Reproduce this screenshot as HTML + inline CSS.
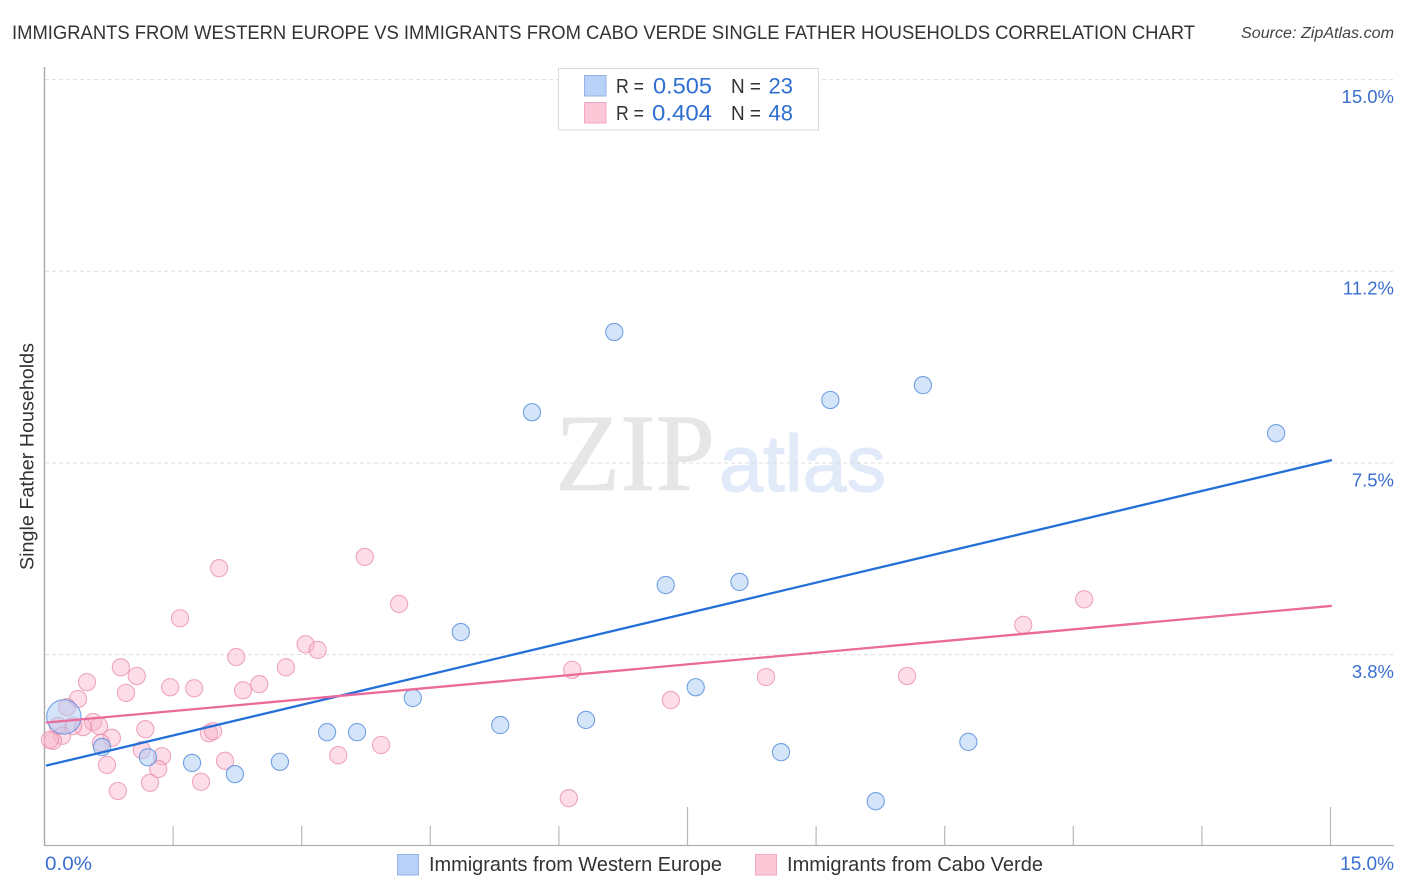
<!DOCTYPE html>
<html lang="en">
<head>
<meta charset="utf-8">
<title>Immigrants from Western Europe vs Immigrants from Cabo Verde Single Father Households Correlation Chart</title>
<style>
html,body{margin:0;padding:0;background:#fff;width:1406px;height:892px;overflow:hidden}
svg{display:block}
text{font-family:"Liberation Sans",sans-serif}
</style>
</head>
<body>
<svg id="chart" xmlns="http://www.w3.org/2000/svg" width="1406" height="892" viewBox="0 0 1406 892">
  <rect x="0" y="0" width="1406" height="892" fill="#ffffff"/>
  <text x="12" y="39" font-size="19.5" fill="#333" textLength="1183" lengthAdjust="spacingAndGlyphs">IMMIGRANTS FROM WESTERN EUROPE VS IMMIGRANTS FROM CABO VERDE SINGLE FATHER HOUSEHOLDS CORRELATION CHART</text>
  <text x="1394" y="38" font-size="15.5" font-style="italic" fill="#444" text-anchor="end" textLength="153" lengthAdjust="spacingAndGlyphs">Source: ZipAtlas.com</text>

  <g id="watermark">
    <text x="555" y="490" font-size="110" fill="#e6e6e6" stroke="#e6e6e6" stroke-width="0.8" textLength="160" lengthAdjust="spacingAndGlyphs" style="font-family:'Liberation Serif',serif">ZIP</text>
    <text x="719" y="491" font-size="80" fill="#e0eaf9" stroke="#e0eaf9" stroke-width="1.2" textLength="167" lengthAdjust="spacingAndGlyphs">atlas</text>
  </g>

  <g id="grid"></g>
  <g id="axes"></g>
  <g id="points-pink"></g>
  <g id="points-blue"></g>
  <g id="trends"></g>
  <g id="tick-labels"></g>

  <text transform="translate(33.5,456.5) rotate(-90)" font-size="19.5" fill="#333" text-anchor="middle" textLength="227" lengthAdjust="spacingAndGlyphs">Single Father Households</text>

  <g>
    <rect x="558.5" y="68.5" width="260" height="61.5" fill="#ffffff" stroke="#dcdcdc" stroke-width="1"/>
    <rect x="584.5" y="75.5" width="21.5" height="20.5" fill="#b8d2f7" stroke="#93b3e6" stroke-width="1"/>
    <rect x="584.5" y="102.5" width="21.5" height="20.5" fill="#fcc8d8" stroke="#f1a8c0" stroke-width="1"/>
    <text x="616" y="93" font-size="20" fill="#333" textLength="28" lengthAdjust="spacingAndGlyphs">R =</text>
    <text x="653" y="93.5" font-size="22" fill="#2f6fd0" textLength="59" lengthAdjust="spacingAndGlyphs">0.505</text>
    <text x="731" y="93" font-size="20" fill="#333" textLength="30" lengthAdjust="spacingAndGlyphs">N =</text>
    <text x="793" y="93.5" font-size="22" fill="#2f6fd0" text-anchor="end">23</text>
    <text x="616" y="120" font-size="20" fill="#333" textLength="28" lengthAdjust="spacingAndGlyphs">R =</text>
    <text x="652" y="120.5" font-size="22" fill="#2f6fd0" textLength="60" lengthAdjust="spacingAndGlyphs">0.404</text>
    <text x="731" y="120" font-size="20" fill="#333" textLength="30" lengthAdjust="spacingAndGlyphs">N =</text>
    <text x="793" y="120.5" font-size="22" fill="#2f6fd0" text-anchor="end">48</text>
  </g>

  <g>
    <rect x="397.5" y="854.5" width="21" height="20.5" fill="#b8d2f7" stroke="#93b3e6" stroke-width="1"/>
    <text x="429" y="871" font-size="20" fill="#333" textLength="293" lengthAdjust="spacingAndGlyphs">Immigrants from Western Europe</text>
    <rect x="755.5" y="854.5" width="21" height="20.5" fill="#fcc8d8" stroke="#f1a8c0" stroke-width="1"/>
    <text x="787" y="871" font-size="20" fill="#333" textLength="256" lengthAdjust="spacingAndGlyphs">Immigrants from Cabo Verde</text>
  </g>
</svg>
<script>
const blueX = [0.22,0.665,1.20,1.715,2.215,2.74,3.29,3.64,4.29,4.85,5.31,5.68,6.31,6.64,7.24,7.59,8.10,8.585,9.16,9.69,10.24,10.77,14.36];
const blueY = [2.54,1.95,1.75,1.64,1.42,1.66,2.24,2.24,2.91,4.20,2.38,8.50,2.48,10.07,5.12,3.12,5.18,1.85,8.74,0.89,9.03,2.05,8.09];
const blueWeight = [4,1,1,1,1,1,1,1,1,1,1,1,1,1,1,1,1,1,1,1,1,1,1];
const pinkX = [1.575,3.04,3.18,2.23,0.885,1.07,0.49,2.81,2.50,2.31,1.46,1.74,0.945,0.385,0.257,0.56,0.63,1.17,0.443,0.327,0.152,0.198,0.093,0.058,0.78,0.653,1.913,1.96,1.13,1.365,1.32,1.225,0.723,0.85,1.82,2.10,3.42,2.03,3.73,4.13,3.92,6.15,7.30,8.41,10.055,11.41,12.12,6.11];
const pinkY = [4.47,3.96,3.85,3.71,3.51,3.34,3.22,3.51,3.18,3.06,3.12,3.10,3.01,2.89,2.73,2.44,2.36,2.30,2.34,2.36,2.36,2.17,2.07,2.09,2.13,2.03,2.22,2.26,1.89,1.77,1.52,1.25,1.60,1.09,1.27,1.68,1.79,5.45,5.67,4.75,1.99,3.46,2.87,3.32,3.34,4.34,4.84,0.95];
const trendX = [0.023,15];
const blueTrendY = [1.59,7.56];
const pinkTrendY = [2.43,4.71];
const yTickValues = [3.75,7.5,11.25,15];
const yTickLabels = ["3.8%","7.5%","11.2%","15.0%"];
const xTickValues = [1.5,3,4.5,6,7.5,9,10.5,12,13.5,15];
const xMajorTicks = [7.5,15];
const xTickLabels = ["0.0%","15.0%"];

const NS = "http://www.w3.org/2000/svg";
const plotLeft = 45, plotRight = 1331, plotBottom = 846.7, plotTop = 80;
const xScale = v => plotLeft + v / 15 * (plotRight - plotLeft);
const yScale = v => plotBottom - v / 15 * (plotBottom - plotTop);
function mk(tag, attrs, parent) {
  const el = document.createElementNS(NS, tag);
  for (const k in attrs) el.setAttribute(k, attrs[k]);
  parent.appendChild(el);
  return el;
}
const gridG = document.getElementById("grid");
const axesG = document.getElementById("axes");
const labelsG = document.getElementById("tick-labels");
const pinkG = document.getElementById("points-pink");
const blueG = document.getElementById("points-blue");
const trendG = document.getElementById("trends");

yTickValues.forEach((v, i) => {
  const y = yScale(v) - 0.4;
  const line = mk("line", {x1: plotLeft, x2: 1394, y1: y, y2: y, stroke: "#dedede", "stroke-width": 1, "stroke-dasharray": "4 3"}, gridG);
  
  
  const label = mk("text", {x: 1394, y: yScale(v) + 23, "font-size": 18.5, fill: "#3a6fd0", "text-anchor": "end"}, labelsG);
  label.textContent = yTickLabels[i];
  
  
});

const yAxis = mk("line", {x1: 44.5, x2: 44.5, y1: 67, y2: 846, stroke: "#a8a8a8", "stroke-width": 1.4}, axesG);


const xAxis = mk("line", {x1: 44, x2: 1394, y1: 845.5, y2: 845.5, stroke: "#b0b0b0", "stroke-width": 1.2}, axesG);



xTickValues.forEach(v => {
  const x = xScale(v) - 0.5;
  const top = xMajorTicks.includes(v) ? 807 : 826;
  const tick = mk("line", {x1: x, x2: x, y1: top, y2: 845, stroke: "#b8b8b8", "stroke-width": 1.2}, axesG);
  
  
});

const xLabelLeft = mk("text", {x: 45, y: 870, "font-size": 19, fill: "#3a6fd0", textLength: 47, lengthAdjust: "spacingAndGlyphs"}, labelsG);
xLabelLeft.textContent = xTickLabels[0];


const xLabelRight = mk("text", {x: 1394, y: 870, "font-size": 19, fill: "#3a6fd0", "text-anchor": "end"}, labelsG);
xLabelRight.textContent = xTickLabels[1];



pinkX.forEach((v, i) => {
  const c = mk("circle", {cx: xScale(v), cy: yScale(pinkY[i]), r: 8.6, fill: "#f9b4cb", "fill-opacity": 0.45, stroke: "#ea8cab", "stroke-opacity": 0.75, "stroke-width": 1.1}, pinkG);
  
  
});
blueX.forEach((v, i) => {
  const c = mk("circle", {cx: xScale(v), cy: yScale(blueY[i]), r: 8.6 * Math.sqrt(blueWeight[i]), fill: "#a9c9f4", "fill-opacity": 0.5, stroke: "#5c93de", "stroke-opacity": 0.85, "stroke-width": 1.1}, blueG);
  
  
});

const blueLine = mk("line", {x1: xScale(trendX[0]), x2: xScale(trendX[1]), y1: yScale(blueTrendY[0]), y2: yScale(blueTrendY[1]), stroke: "#2470d8", "stroke-width": 2.3, "stroke-linecap": "round"}, trendG);


const pinkLine = mk("line", {x1: xScale(trendX[0]), x2: xScale(trendX[1]), y1: yScale(pinkTrendY[0]), y2: yScale(pinkTrendY[1]), stroke: "#ea6a9b", "stroke-width": 2.3, "stroke-linecap": "round"}, trendG);


</script>
</body>
</html>
